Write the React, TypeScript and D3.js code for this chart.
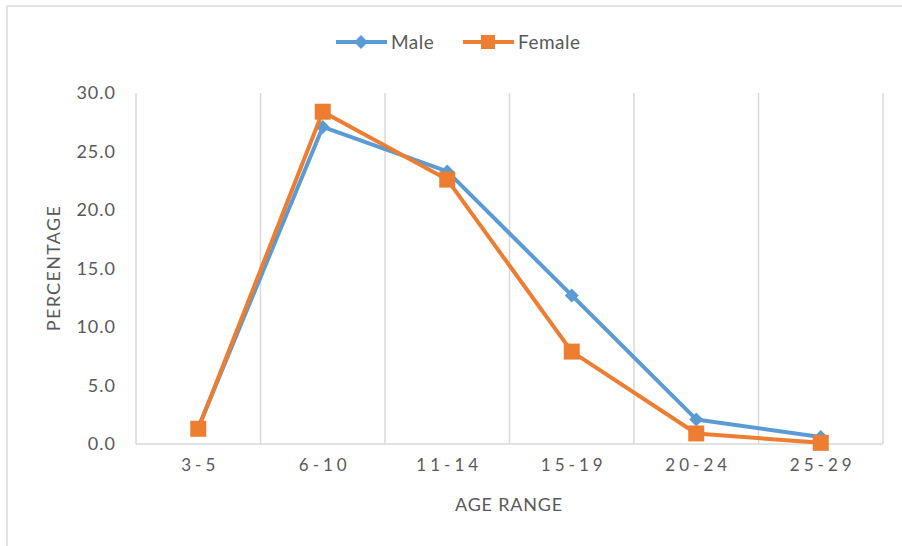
import React from "react";
import * as d3 from "d3";

const categories = ["3-5", "6-10", "11-14", "15-19", "20-24", "25-29"];
const maleValues = [1.4, 27.1, 23.3, 12.7, 2.1, 0.6];
const femaleValues = [1.3, 28.4, 22.6, 7.9, 0.9, 0.1];
const yTicks = [0, 5, 10, 15, 20, 25, 30];
const seriesNames = ["Male", "Female"];

const W = 902;
const H = 546;
const MALE = "#5B9BD5";
const FEMALE = "#ED7D31";
const GRID = "#D9D9D9";
const TEXT = "#595959";
const FONT = "Lato, 'Open Sans', sans-serif";

export default function App() {
  const x = d3.scaleBand<string>().domain(categories).range([136, 883]).padding(0);
  const y = d3.scaleLinear().domain([0, 30]).range([444, 93]);
  const cx = (c: string) => (x(c) as number) + x.bandwidth() / 2;
  const line = d3
    .line<number>()
    .x((_, i) => cx(categories[i]))
    .y((d) => y(d));

  const diamond = (px: number, py: number, r: number) =>
    `M${px},${py - r}L${px + r},${py}L${px},${py + r}L${px - r},${py}Z`;

  return (
    <svg
      width={W}
      height={H}
      style={{ position: "absolute", left: 0, top: 0, background: "#fff" }}
      fontFamily={FONT}
    >
      <rect x={0} y={0} width={W} height={H} fill="#fff" />
      {/* outer frame */}
      <line x1={7} y1={6} x2={W} y2={6} stroke={GRID} strokeWidth={1.5} />
      <line x1={7} y1={6} x2={7} y2={H} stroke={GRID} strokeWidth={1.5} />

      {/* vertical gridlines */}
      {categories.map((c) => (
        <line
          key={"g" + c}
          x1={(x(c) as number) + x.bandwidth()}
          x2={(x(c) as number) + x.bandwidth()}
          y1={y(30)}
          y2={y(0)}
          stroke={GRID}
          strokeWidth={1.5}
        />
      ))}
      <line x1={136} x2={136} y1={y(30)} y2={y(0)} stroke={GRID} strokeWidth={1.5} />
      <line x1={136} x2={883} y1={y(0)} y2={y(0)} stroke={GRID} strokeWidth={1.5} />

      {/* y tick labels */}
      {yTicks.map((t) => (
        <text
          key={"y" + t}
          x={116}
          y={y(t)}
          dy="0.35em"
          textAnchor="end"
          fontSize={18}
          letterSpacing={1}
          fill={TEXT}
        >
          {t.toFixed(1)}
        </text>
      ))}

      {/* x tick labels */}
      {categories.map((c) => (
        <text
          key={"x" + c}
          x={cx(c) + 2}
          y={471}
          textAnchor="middle"
          fontSize={17}
          letterSpacing={4}
          fill={TEXT}
        >
          {c}
        </text>
      ))}

      {/* axis titles */}
      <text
        transform={`translate(54,268) rotate(-90)`}
        textAnchor="middle"
        dy="0.35em"
        fontSize={18}
        letterSpacing={1.3}
        fill={TEXT}
      >
        PERCENTAGE
      </text>
      <text x={509} y={505} dy="0.35em" textAnchor="middle" fontSize={18} letterSpacing={0.8} fill={TEXT}>
        AGE RANGE
      </text>

      {/* series */}
      <path d={line(maleValues) || ""} fill="none" stroke={MALE} strokeWidth={4} strokeLinejoin="round" />
      {maleValues.map((v, i) => (
        <path key={"m" + i} d={diamond(cx(categories[i]), y(v), 7)} fill={MALE} />
      ))}
      <path d={line(femaleValues) || ""} fill="none" stroke={FEMALE} strokeWidth={4} strokeLinejoin="round" />
      {femaleValues.map((v, i) => (
        <rect
          key={"f" + i}
          x={cx(categories[i]) - 8}
          y={y(v) - 8}
          width={16}
          height={16}
          fill={FEMALE}
        />
      ))}

      {/* legend */}
      <g>
        <line x1={336} x2={387} y1={42} y2={42} stroke={MALE} strokeWidth={4} />
        <path d={diamond(361, 42, 7)} fill={MALE} />
        <text x={391} y={42} dy="0.35em" fontSize={19} letterSpacing={0.5} fill={TEXT}>
          {seriesNames[0]}
        </text>
        <line x1={463} x2={514} y1={42} y2={42} stroke={FEMALE} strokeWidth={4} />
        <rect x={481} y={35} width={14} height={14} fill={FEMALE} />
        <text x={518} y={42} dy="0.35em" fontSize={19} letterSpacing={0.5} fill={TEXT}>
          {seriesNames[1]}
        </text>
      </g>
    </svg>
  );
}
